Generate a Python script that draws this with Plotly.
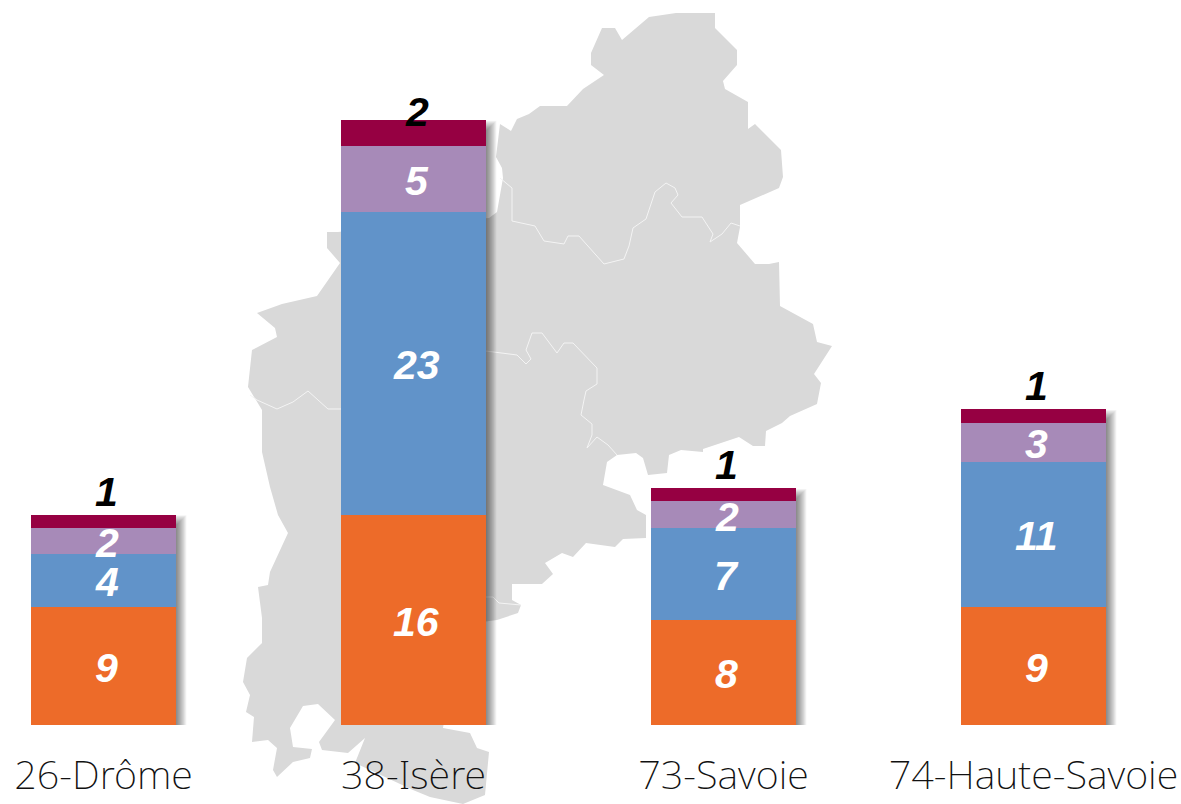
import plotly.graph_objects as go

# ---- data ----
categories = ["26-Drôme", "38-Isère", "73-Savoie", "74-Haute-Savoie"]
series_1 = [9, 16, 8, 9]
series_2 = [4, 23, 7, 11]
series_3 = [2, 5, 2, 3]
series_4 = [1, 2, 1, 1]
series_names = ["Série 1", "Série 2", "Série 3", "Série 4"]
series_colors = ["#ED6B29", "#6193C9", "#A78AB8", "#960042"]

# ---- layout constants ----
W, H = 1181, 804
BASE_PX = 725
PX_PER_UNIT = 13.15
BAR_PX = 145
Y_MAX = BASE_PX / PX_PER_UNIT
X_RANGE = [-0.3339, 3.4758]
TOP_LABEL_SHIFT = [23, 8, 23, 23]

# ---- decorative background map, traced in page pixels ----
map_outline = [
    (500,124),(511,131),(517,119),(529,114),(540,106),(567,106),(583,89),(604,75),(591,65),(591,53),
    (602,28),(615,28),(622,40),(649,17),(676,13),(715,13),(715,28),(737,50),(737,65),(723,81),(725,89),
    (748,102),(748,129),(755,124),(781,150),(783,177),(779,188),(740,205),(740,227),(737,243),(755,264),
    (769,264),(779,262),(780,306),(813,324),(817,342),(832,346),(814,374),(821,383),(817,404),(790,416),
    (782,423),(766,431),(765,446),(753,446),(739,437),(703,449),(703,452),(681,450),(669,455),(667,473),
    (648,475),(643,458),(636,453),(617,455),(607,462),(603,485),(630,495),(637,510),(646,515),(646,538),
    (623,539),(615,547),(586,543),(573,557),(562,553),(545,563),(553,574),(542,584),(512,584),(512,600),
    (521,605),(518,613),(497,620),(460,625),(443,728),(470,733),(477,748),(489,752),(485,795),(463,804),
    (430,797),(413,790),(355,763),(365,738),(348,753),(322,750),(319,742),(335,720),(318,704),(303,706),
    (290,728),(293,747),(312,749),(310,758),(293,762),(277,777),(273,770),(277,748),(268,740),(252,742),
    (254,717),(246,712),(250,695),(243,682),(247,658),(262,643),(262,618),(258,587),(268,585),(270,572),
    (288,533),(278,515),(270,487),(262,452),(262,410),(248,387),(252,350),(277,337),(275,328),(257,313),
    (282,304),(317,296),(340,263),(327,248),(327,232),(338,232),(400,225),(489,218),(497,212),(503,178),
    (502,168),(496,157),
]
map_borders = [
    [(500,178),(512,188),(512,221),(535,226),(544,241),(564,244),(568,236),(579,236),(604,264),(624,259),
     (629,246),(633,228),(646,219),(655,192),(666,183),(675,188),(678,195),(671,203),(682,217),(702,217),
     (713,234),(710,242),(722,234),(731,223),(740,226)],
    [(486,351),(517,355),(526,364),(531,359),(526,350),(532,333),(542,333),(557,353),(564,343),(573,343),
     (597,368),(597,384),(586,391),(584,400),(581,415),(592,424),(592,435),(587,448),(597,437),(608,445),
     (617,455)],
    [(250,395),(257,400),(277,409),(293,402),(308,391),(318,400),(328,409),(341,409)],
    [(486,597),(493,597),(499,603),(521,605)],
]
PLOT_H = BASE_PX


def to_path(points, close=False):
    coords = [f"{x / W:.5f},{1 - y / PLOT_H:.5f}" for x, y in points]
    return "M" + " L".join(coords) + (" Z" if close else "")


shapes = [dict(type="path", xref="paper", yref="paper", layer="below",
               path=to_path(map_outline, True), fillcolor="#D9D9D9", line=dict(width=0))]
for border in map_borders:
    shapes.append(dict(type="path", xref="paper", yref="paper", layer="below",
                       path=to_path(border), fillcolor="rgba(0,0,0,0)",
                       line=dict(color="#F4F4F4", width=1)))

all_series = [series_1, series_2, series_3, series_4]
totals = [sum(s[i] for s in all_series) for i in range(len(categories))]

# soft drop shadow behind each column
half = BAR_PX / 2
for i, cat in enumerate(categories):
    top_px = totals[i] * PX_PER_UNIT
    for k in range(1, 14):
        shapes.append(dict(type="rect", layer="below", xref="x", yref="y",
                           xsizemode="pixel", ysizemode="pixel",
                           xanchor=cat, yanchor=0,
                           x0=-half + 9 - 0.6 * k, x1=half + 0.8 * k,
                           y0=-0.55 * k, y1=top_px - 11 + 0.8 * k,
                           fillcolor="black", opacity=0.045, line=dict(width=0)))

fig = go.Figure()
for name, values, color in zip(series_names, all_series, series_colors):
    fig.add_trace(go.Bar(name=name, x=categories, y=values,
                         marker=dict(color=color, line=dict(width=0)),
                         hoverinfo="x+y+name"))

# value labels, placed from the data
annotations = []
for i, cat in enumerate(categories):
    cum = 0
    for j, values in enumerate(all_series):
        v = values[i]
        top_series = j == len(all_series) - 1
        y = cum + v if top_series else cum + v / 2
        annotations.append(dict(
            x=cat, y=y, xref="x", yref="y", text=str(v), showarrow=False,
            xshift=3, yshift=TOP_LABEL_SHIFT[i] if top_series else -2,
            font=dict(family="Liberation Sans", size=41, color="black" if top_series else "white",
                      weight="bold", style="italic"),
        ))
        cum += v

fig.update_layout(
    width=W, height=H, barmode="stack", bargap=1 - BAR_PX / 310,
    margin=dict(l=0, r=0, t=0, b=H - BASE_PX, pad=0),
    paper_bgcolor="white", plot_bgcolor="rgba(0,0,0,0)", showlegend=False,
    shapes=shapes, annotations=annotations,
    xaxis=dict(type="category", categoryorder="array", categoryarray=categories, range=X_RANGE,
               showgrid=False, showline=False, zeroline=False, ticks="", ticklabelstandoff=23,
               tickfont=dict(family="Noto Sans", size=39.5, color="#111111", weight=200)),
    yaxis=dict(range=[0, Y_MAX], visible=False, showgrid=False, zeroline=False),
)

fig.write_html("out.html", post_script="document.body.style.margin='0';document.documentElement.style.overflow='hidden';",
               config=dict(displayModeBar=False))
